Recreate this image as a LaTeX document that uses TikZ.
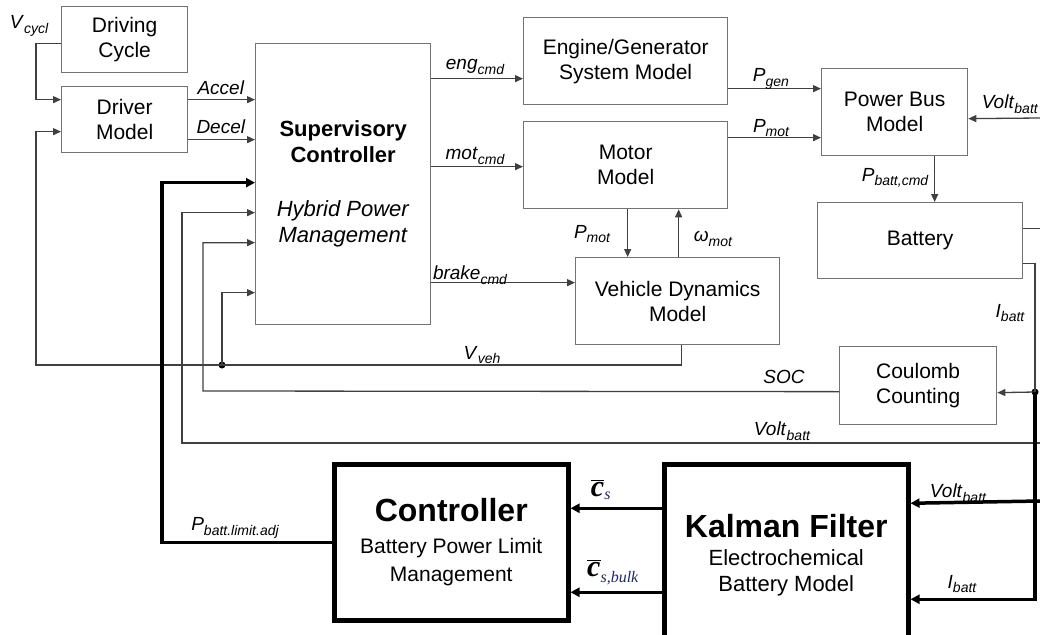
\documentclass[tikz,border=0pt]{standalone}
\usepackage{fontspec}
\usepackage{amsmath}
\setmainfont{Liberation Sans}
\newfontfamily\serifbi{Liberation Serif}
\usetikzlibrary{arrows.meta}
\definecolor{wiregray}{gray}{0.25}
\definecolor{boxgray}{gray}{0.45}
\definecolor{subnavy}{RGB}{30,40,100}
\newcommand\sig[2]{\textit{#1}\raisebox{-0.45ex}{\fontsize{14}{14}\selectfont\itshape #2}}
\newcommand\cbar[1]{$\overline{\hbox{\fontsize{30}{30}\serifbi\bfseries\itshape c}}_{\hbox{\fontsize{16}{16}\serifbi\itshape\color{subnavy}#1}}$}
\tikzset{
  box/.style={draw=boxgray, line width=1.3pt, fill=white, anchor=north west, inner sep=0pt,
    align=center, font=\fontsize{21}{25}\selectfont},
  bigbox/.style={draw=black, line width=4.5pt, fill=white, anchor=north west, inner sep=0pt,
    align=center, font=\fontsize{21}{28}\selectfont},
  wire/.style={draw=wiregray, line width=1.3pt},
  arr/.style={wire, -{Triangle[length=8pt,width=7pt]}},
  heavy/.style={draw=black, line width=3.5pt},
  harr/.style={heavy, -{Triangle[length=9pt,width=9pt]}},
  lab/.style={font=\fontsize{19}{19}\selectfont, inner sep=0pt},
  jdot/.style={circle, fill=black, inner sep=0pt, minimum size=7pt},
}
\begin{document}
\begin{tikzpicture}[x=1pt,y=-1pt]
\useasboundingbox (0,0) rectangle (1040,634);

% boxes
\node[box, minimum width=126pt, minimum height=66pt] (dc) at (61,6) {Driving\\Cycle};
\node[box, minimum width=126pt, minimum height=66pt] (dm) at (61,86) {Driver\\Model};
\node[box, minimum width=175pt, minimum height=281pt, font=\fontsize{22}{26}\selectfont] (sc) at (255,43)
  {\textbf{Supervisory}\\\textbf{Controller}\\[28pt]\textit{Hybrid Power}\\\textit{Management}};
\node[box, minimum width=204pt, minimum height=87pt] (eg) at (523,17) {Engine/Generator\\System Model};
\node[box, minimum width=204pt, minimum height=87pt] (mm) at (523,121) {Motor\\Model};
\node[box, minimum width=146pt, minimum height=87pt] (pb) at (821,68) {Power Bus\\Model};
\node[box, minimum width=205pt, minimum height=76pt] (bat) at (817,202) {Battery};
\node[box, minimum width=204pt, minimum height=87pt] (vd) at (575,257) {Vehicle Dynamics\\Model};
\node[box, minimum width=157pt, minimum height=78pt] (cc) at (839,346) {Coulomb\\Counting};
\node[bigbox, minimum width=234pt, minimum height=156pt] (ctl) at (332,462)
  {{\fontsize{32}{32}\selectfont\bfseries Controller}\\[4pt]Battery Power Limit\\Management};
\node[bigbox, minimum width=244pt, minimum height=182pt, font=\fontsize{22}{26}\selectfont] (kf) at (662,462)
  {{\fontsize{32}{32}\selectfont\bfseries Kalman Filter}\\[2pt]Electrochemical\\Battery Model};

% free ends and junctions
\coordinate (vl) at (36,365);
\coordinate (tk) at (162,0);
\coordinate (vbR) at (1040,443);
\coordinate (vbL) at (182,443);
\coordinate (socL) at (203,391);
\coordinate (vpb) at (1040,118);
\coordinate (vk) at (1040,501);
\node[jdot] (vv) at (222,365) {};
\node[jdot] (ib) at (1035,392) {};

% driver connections
\draw[arr] ([yshift=-4pt]dc.west) -- ++(-25,0) |- ([yshift=20pt]dm.west);
\draw[arr] ([xshift=4pt]vd.south) |- (vl) |- ([yshift=-12pt]dm.west);
\draw[arr] (vv.center) |- ([yshift=-108.5pt]sc.west);
\draw[arr] ([yshift=20pt]dm.east) -- ([yshift=84.5pt]sc.west);
\draw[arr] ([yshift=-20pt]dm.east) -- ([yshift=44.5pt]sc.west);

% feedback lines into supervisory controller
\draw[harr] (ctl.west) -- (ctl.west -| tk) |- ([yshift=1.5pt]sc.west);
\draw[arr] (vbR) -- (vbL) |- ([yshift=-28.5pt]sc.west);
\draw[arr] ([yshift=-6pt]cc.west) -- (socL) |- ([yshift=-58.5pt]sc.west);

% supervisory outputs
\draw[arr] ([yshift=105.5pt]sc.east) -- ([yshift=-17.5pt]eg.west);
\draw[arr] ([yshift=17.5pt]sc.east) -- ([yshift=-1.5pt]mm.west);
\draw[arr] ([yshift=-98.5pt]sc.east) -- ([yshift=18.5pt]vd.west);

% power bus
\draw[arr] ([yshift=-27.5pt]eg.east) -- ([yshift=23.5pt]pb.west);
\draw[arr] ([yshift=27.5pt]mm.east) -- ([yshift=-25.5pt]pb.west);
\draw[arr] (vpb) -- ([yshift=-6.5pt]pb.east);
\draw[arr] ([xshift=40pt]pb.south) -- ([xshift=14.5pt]bat.north);

% motor / vehicle
\draw[arr] ([xshift=2pt]mm.south) -- ([xshift=-50pt]vd.north);
\draw[arr] ([xshift=1pt]vd.north) -- ([xshift=53pt]mm.south);

% battery outputs
\draw[wire] ([yshift=12pt]bat.east) -- ++(20,0);
\draw[wire] ([yshift=-23pt]bat.east) -| (ib.center);
\draw[arr] (ib.center) -- ([yshift=-7pt]cc.east);
\draw[harr] (ib.center) |- ([yshift=-44pt]kf.east);
\draw[harr] (vk) -- ([yshift=52pt]kf.east);

% kalman to controller
\draw[harr] ([yshift=47pt]kf.west) -- ([yshift=34pt]ctl.east);
\draw[harr] ([yshift=-37pt]kf.west) -- ([yshift=-50pt]ctl.east);

% labels
\node[lab] (lvc) at (29,26) {\sig{V}{cycl}};
\node[lab] (lac) at (221,88) {\textit{Accel}};
\node[lab] (lde) at (221,127) {\textit{Decel}};
\node[lab] (leng) at (475,67) {\sig{eng}{cmd}};
\node[lab] (lmot) at (475,156) {\sig{mot}{cmd}};
\node[lab] (lbr) at (470,275) {\sig{brake}{cmd}};
\node[lab] (lpg) at (771,79) {\sig{P}{gen}};
\node[lab] (lpm) at (771,128) {\sig{P}{mot}};
\node[lab, anchor=east] (lvb1) at (1038,104) {\sig{Volt}{batt}};
\node[lab] (lpbc) at (895,178) {\sig{P}{batt,cmd}};
\node[lab] (lpm2) at (592,234) {\sig{P}{mot}};
\node[lab] (lom) at (713,239) {\sig{ω}{mot}};
\node[lab] (lvv) at (482,355) {\sig{V}{veh}};
\node[lab] (lsoc) at (784,377) {\textit{SOC}};
\node[lab] (lvb2) at (782,431) {\sig{Volt}{batt}};
\node[lab] (lib) at (1010,313) {\sig{I}{batt}};
\node[lab] (lpl) at (235,528) {\sig{P}{batt.limit.adj}};
\node[lab] (lcs) at (601,489) {\cbar{s}};
\node[lab] (lcb) at (613,572) {\cbar{s,bulk}};
\node[lab] (lvb3) at (958,493) {\sig{Volt}{batt}};
\node[lab] (lib2) at (962,584) {\sig{I}{batt}};
\end{tikzpicture}
\end{document}
